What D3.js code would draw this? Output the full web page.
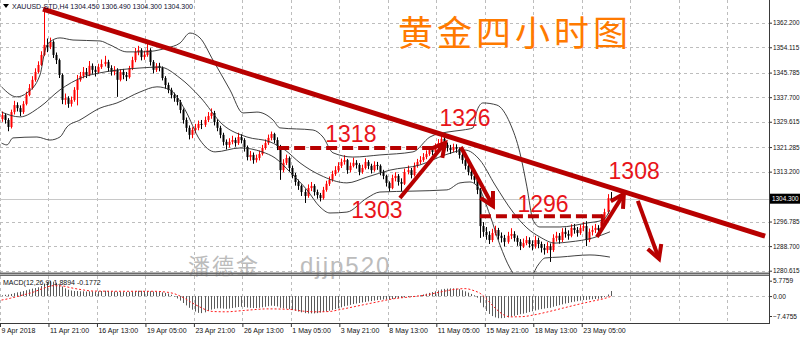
<!DOCTYPE html>
<html>
<head>
<meta charset="utf-8">
<script src="https://cdn.jsdelivr.net/npm/d3@7"></script>
<style>
  body { margin: 0; background: #fff; }
  svg { display: block; }
  .tick text { font-family: "Liberation Sans", Arial, sans-serif; }
</style>
</head>
<body>
<svg id="chart" width="800" height="337"></svg>
<script>
// ---- data (XAUUSD H4) ----
const firstOpen = 1330.5;

const closes = [
  1331.8,1330.2,1327.9,1332.8,1335.1,1334.1,1332.8,1335.5,1338.4,1340.7,
  1343.4,1346.0,1348.3,1351.6,1354.9,1354.2,1355.9,1351.6,1349.9,1345.0,
  1336.8,1337.4,1335.5,1336.8,1340.1,1343.4,1344.7,1346.0,1345.0,1348.0,
  1346.7,1346.0,1347.6,1348.6,1349.3,1347.3,1346.0,1346.7,1343.4,1346.0,
  1345.0,1344.3,1347.3,1349.9,1352.6,1353.2,1350.9,1351.6,1353.2,1349.3,
  1346.7,1348.0,1347.3,1344.0,1341.7,1340.1,1338.4,1337.4,1336.1,1333.5,
  1330.2,1327.6,1325.3,1326.9,1327.6,1328.9,1328.6,1330.2,1331.5,1332.5,
  1329.5,1327.6,1325.3,1323.0,1322.0,1323.0,1323.6,1322.6,1324.6,1323.6,
  1321.3,1318.0,1318.7,1317.0,1317.7,1319.0,1321.0,1322.6,1324.3,1325.6,
  1323.6,1321.6,1313.7,1316.1,1317.7,1314.4,1312.1,1309.8,1308.5,1306.5,
  1305.2,1307.8,1308.5,1306.5,1305.5,1304.5,1307.2,1309.2,1310.5,1312.4,
  1313.7,1315.1,1316.4,1317.0,1313.7,1315.1,1316.1,1315.4,1313.1,1314.4,
  1316.4,1315.1,1313.7,1315.4,1315.1,1313.1,1311.8,1309.5,1307.8,1311.1,
  1311.8,1309.8,1309.2,1313.1,1313.7,1312.1,1315.1,1316.4,1317.0,1318.0,
  1319.0,1320.3,1319.7,1321.3,1322.6,1324.0,1322.0,1321.0,1320.3,1321.3,
  1320.7,1318.7,1317.0,1315.1,1313.1,1311.8,1310.5,1307.2,1295.3,1293.4,
  1292.4,1290.7,1293.0,1294.0,1292.1,1291.4,1290.1,1292.1,1292.7,1291.4,
  1290.1,1288.7,1289.7,1290.7,1289.4,1288.7,1290.7,1289.4,1288.1,1287.4,
  1288.7,1287.4,1291.4,1292.1,1290.7,1293.4,1292.7,1292.1,1294.7,1294.0,
  1293.0,1294.7,1295.3,1290.7,1293.4,1294.0,1294.7,1294.0,1296.7,1299.9,
  1304.5,1304.3
];

const highs = [
  1333.0,1332.4,1330.8,1333.6,1336.5,1336.0,1335.0,1336.4,1339.5,1342.0,
  1344.6,1347.2,1349.5,1352.8,1366.1,1357.0,1357.3,1356.4,1352.4,1350.4,
  1345.5,1338.9,1338.0,1337.9,1341.0,1345.0,1346.0,1347.6,1347.3,1349.6,
  1348.8,1347.9,1348.7,1350.1,1351.3,1350.0,1348.2,1347.9,1347.2,1346.9,
  1347.0,1346.0,1348.0,1351.0,1353.9,1354.6,1353.8,1353.0,1355.5,1353.8,
  1349.9,1348.9,1349.0,1347.8,1344.6,1342.5,1340.8,1339.2,1338.4,1336.8,
  1334.0,1331.0,1328.4,1327.8,1328.9,1330.0,1330.2,1331.3,1332.8,1334.0,
  1333.2,1330.4,1328.3,1326.0,1323.8,1324.2,1325.0,1324.4,1326.0,1325.5,
  1324.2,1321.8,1320.0,1319.5,1318.8,1320.1,1322.0,1323.8,1325.4,1326.4,
  1326.0,1324.5,1322.0,1317.3,1318.8,1318.2,1315.2,1312.8,1310.6,1309.0,
  1307.4,1309.0,1309.8,1309.1,1307.3,1306.2,1308.2,1310.2,1311.6,1313.5,
  1315.0,1316.3,1317.5,1318.6,1317.4,1316.2,1317.8,1317.0,1316.0,1315.5,
  1317.6,1317.0,1315.8,1316.6,1316.4,1315.6,1313.8,1312.2,1310.0,1312.2,
  1313.0,1312.4,1311.0,1314.2,1315.2,1314.4,1316.2,1317.4,1318.3,1319.3,
  1320.2,1321.6,1321.3,1322.5,1323.9,1325.9,1324.6,1322.8,1322.0,1322.4,
  1322.2,1321.2,1319.4,1317.6,1315.6,1313.8,1312.4,1311.0,1307.8,1296.6,
  1295.0,1293.6,1294.4,1295.4,1294.7,1293.2,1292.4,1293.4,1294.6,1293.6,
  1292.2,1291.0,1291.2,1292.0,1291.6,1290.6,1292.1,1291.5,1290.2,1289.4,
  1290.0,1289.6,1292.6,1293.4,1293.0,1294.6,1294.8,1293.9,1295.9,1296.0,
  1295.0,1295.8,1296.6,1296.9,1294.5,1295.4,1296.0,1295.6,1297.8,1301.0,
  1305.8,1306.49
];

const lows = [
  1329.6,1329.0,1326.5,1327.4,1332.0,1333.0,1331.5,1332.2,1335.0,1338.0,
  1340.2,1342.8,1345.5,1347.9,1351.2,1352.5,1353.5,1350.6,1348.6,1344.0,
  1335.4,1335.2,1334.2,1334.6,1336.2,1335.0,1342.8,1343.9,1344.0,1344.6,
  1345.4,1344.5,1345.5,1347.0,1347.8,1346.1,1344.8,1344.9,1337.8,1342.9,
  1343.6,1343.0,1343.8,1346.6,1349.2,1351.5,1349.8,1350.0,1351.0,1348.1,
  1345.5,1346.0,1346.2,1343.2,1340.5,1339.0,1337.3,1336.2,1335.0,1332.4,
  1329.0,1326.3,1323.8,1324.2,1325.8,1326.8,1327.2,1327.9,1329.5,1330.6,
  1328.4,1326.5,1324.2,1321.8,1320.5,1321.1,1322.2,1321.4,1322.0,1322.5,
  1319.8,1316.9,1316.8,1315.8,1316.2,1316.9,1318.5,1320.4,1322.0,1323.5,
  1322.6,1320.3,1310.5,1313.0,1315.4,1313.2,1311.0,1308.6,1307.2,1305.2,
  1302.9,1304.6,1306.8,1305.3,1304.3,1303.4,1304.0,1306.6,1308.5,1309.9,
  1311.8,1313.0,1314.4,1315.5,1312.5,1313.0,1314.6,1314.2,1312.0,1312.5,
  1313.9,1314.0,1312.6,1313.2,1313.8,1312.0,1310.7,1308.3,1306.7,1307.4,
  1310.0,1308.6,1306.8,1308.8,1312.3,1311.0,1311.6,1314.5,1315.6,1316.4,
  1317.3,1318.4,1318.6,1319.2,1320.8,1322.0,1320.8,1319.8,1319.0,1319.6,
  1319.4,1317.5,1315.8,1313.9,1312.0,1310.6,1309.3,1305.8,1291.4,1291.8,
  1290.8,1289.4,1290.0,1292.2,1290.8,1289.9,1288.6,1289.5,1291.0,1290.2,
  1288.8,1287.4,1288.1,1289.0,1288.2,1287.3,1287.9,1288.0,1286.6,1285.9,
  1286.4,1283.5,1286.8,1290.2,1289.5,1290.0,1291.5,1290.8,1291.6,1292.8,
  1291.8,1292.4,1293.6,1288.7,1290.0,1292.2,1293.0,1292.8,1293.4,1296.0,
  1299.3,1304.3
];

// Bollinger bands (20,2), traced at sample bars
const upperBars = [0,5,8.4,12.7,14.4,16,19.3,23.6,32.5,35.8,41.4,46.7,54.6,58.9,62.2,65.5,69.8,75.4,79.7,84.3,89.6,91.9,102.8,106.1,109.4,116,124.9,135.8,141.4,147,152.3,155.6,157,158.9,163.5,167.8,171.1,173.4,175.4,177.7,184.3,193.2,198.5,200.8];
const upperVals = [1341.1,1337.8,1339.1,1345.0,1353.2,1355.9,1357.2,1356.5,1356.2,1354.9,1352.6,1352.6,1353.9,1355.5,1358.8,1357.2,1349.9,1340.1,1332.5,1332.8,1330.2,1327.6,1326.9,1324.6,1319.4,1318.0,1318.7,1319.7,1324.6,1326.2,1326.9,1327.6,1333.5,1335.8,1335.1,1329.2,1319.4,1308.2,1297.3,1295.0,1295.0,1296.3,1297.3,1300.6];
const middleBars = [0,6.1,12.7,19.3,26.9,32.5,45.7,52.3,58.9,65.5,73.1,81,88.6,93.6,98.5,105.1,114,120.6,128.2,138.1,146.4,153,157.9,162.9,168.8,173.4,177.7,182.7,187.6,195.2,200.8];
const middleVals = [1332.8,1331.2,1334.5,1340.1,1344.3,1345.7,1347.3,1347.6,1344.0,1337.8,1328.6,1324.6,1323.0,1320.3,1316.1,1312.1,1309.5,1311.4,1313.7,1315.4,1318.7,1320.3,1317.0,1308.8,1299.9,1294.7,1291.7,1289.7,1290.1,1291.4,1293.4];
const lowerBars = [0,1.8,3.8,11.7,16,19.3,21.6,25.9,32.5,38.1,45.7,51.3,55.6,60.6,65.5,70.5,78.7,86,90.3,95.2,100.8,105.1,108.4,114,120.6,124.9,135.8,147,151.3,154.6,157.9,161.2,164.5,167.8,171.1,174.4,177.1,179.4,184.3,194.2,200.8];
const lowerVals = [1322.6,1322.0,1324.3,1324.6,1323.6,1324.6,1327.9,1330.2,1334.1,1335.8,1339.4,1341.1,1340.1,1333.5,1323.6,1319.7,1321.0,1319.7,1317.7,1313.1,1307.2,1301.6,1299.6,1299.9,1304.5,1306.5,1306.8,1307.2,1309.5,1309.8,1307.2,1298.9,1289.1,1281.5,1277.6,1278.2,1282.5,1284.8,1285.1,1285.8,1285.1];

// MACD(12,26,9): main per bar, signal traced at sample bars
const macdMain = [
  0.3,0.5,0.6,0.8,1.1,1.4,1.6,1.9,2.2,2.5,2.8,3.0,3.3,3.8,
  4.7,5.3,5.6,5.4,5.0,4.4,3.6,2.9,2.4,2.1,
  1.9,1.9,1.8,1.8,1.7,1.8,1.8,1.7,1.8,1.9,
  2.0,1.9,1.8,1.7,1.6,1.6,1.5,1.5,1.6,1.7,
  1.9,2.0,2.0,1.9,1.9,1.8,1.7,1.6,1.5,1.4,1.2,
  1.0,0.5,-0.2,-0.9,-1.7,-2.6,-3.5,-4.4,-5.1,-5.8,-6.3,
  -6.4,-6.1,-5.6,-5.1,-4.8,-4.6,-4.6,-4.7,-4.8,-4.7,
  -4.5,-4.3,-4.1,-4.0,-4.1,-4.3,-4.4,-4.5,-4.5,-4.4,
  -4.2,-4.0,-3.8,-3.6,-3.7,-3.9,-4.4,-4.6,-4.7,-4.9,
  -5.2,-5.5,-5.8,-6.1,-6.4,-6.5,-6.5,-6.5,-6.4,-6.2,
  -6.0,-5.8,-5.5,-5.2,-4.9,-4.6,-4.2,-3.8,-3.6,-3.3,
  -3.0,-2.8,-2.6,-2.4,-2.2,-2.0,-1.9,-1.7,-1.5,-1.4,
  -1.3,-1.3,-1.3,-1.1,-0.9,-0.8,-0.7,-0.5,-0.4,-0.3,
  -0.2,0.1,0.3,0.6,0.9,1.2,1.5,1.8,2.1,2.5,
  2.7,2.8,2.9,2.9,2.8,2.6,2.2,1.8,1.3,0.8,
  0.3,-0.6,-2.5,-4.2,-5.6,-6.7,-7.5,-8.0,-8.3,-8.3,
  -8.2,-8.0,-7.7,-7.4,-7.1,-6.8,-6.6,-6.3,-6.0,-5.7,
  -5.4,-5.1,-4.9,-4.7,-4.5,-4.4,-4.0,-3.7,-3.4,-3.1,
  -2.8,-2.6,-2.3,-2.1,-1.9,-1.7,-1.5,-1.5,-1.3,-1.2,
  -1.1,-1.0,-0.9,-0.4,0.6,1.9
];
const signalBars = [0,3,7,10,14,17,20,23,27,30,40,50,55,57,60,63,66,68,70,74,80,88,95,100,104,108,112,118,124,130,135,140,146,150,153,156,158,160,163,166,168,172,176,180,185,190,195,199,201];
const signalVals = [-1.5,-0.8,0.4,1.3,3.0,3.9,3.8,3.1,2.3,1.9,1.8,1.8,1.4,0.9,-0.6,-2.6,-4.4,-5.4,-5.8,-5.9,-5.4,-4.8,-5.0,-5.7,-5.9,-5.8,-5.0,-3.6,-2.2,-0.9,-0.3,0.4,1.8,2.6,2.8,2.0,1.0,-1.0,-4.6,-7.2,-7.8,-7.7,-7.0,-6.0,-4.6,-3.2,-1.9,-0.9,-0.18];

// axis labels
const priceTicks = [1362.200,1354.115,1345.785,1337.700,1329.615,1321.285,1313.200,1296.785,1288.700,1280.615];
const lastPrice = 1304.300;
const macdTicks = [5.7759, 0.00, -7.4755];
const dateLabels = ['9 Apr 2018','11 Apr 21:00','16 Apr 13:00','19 Apr 05:00','23 Apr 21:00','26 Apr 13:00',
  '1 May 05:00','3 May 21:00','8 May 13:00','11 May 05:00','15 May 21:00','18 May 13:00','23 May 05:00'];
const barsPerTick = 16;

// hand-drawn annotations (bar index, price)
const trendLine = [[13.7, 1366.7], [252, 1292.0]];
const levelLines = [
  { from: 91.3, to: 146.4, price: 1321.0, stub: null },
  { from: 157.9, to: 198.3, price: 1298.5, stub: 1295.3 }
];
const arrows = [
  [[131.5, 1304.5], [146.4, 1322.6]],
  [[151.6, 1321.3], [162.2, 1301.9]],
  [[196.5, 1291.7], [205.4, 1305.9]],
  [[210.0, 1303.6], [217.0, 1284.5]]
];
const levelLabels = [
  { text: '1318', bar: 115.3, price: 1323.0 },
  { text: '1326', bar: 153.0, price: 1328.3 },
  { text: '1303', bar: 123.9, price: 1297.9 },
  { text: '1296', bar: 178.7, price: 1299.9 },
  { text: '1308', bar: 208.8, price: 1310.8 }
];

// ---- layout ----
const plotRight = 769;
const mainBottom = 273;
const macdTop = 276, macdBottom = 323;
const gridColor = '#bdbdbd';
const darkRed = '#b80000';
const labelRed = '#e8141a';
const font = '"Liberation Sans", Arial, sans-serif';

const svg = d3.select('#chart');

const x = d3.scaleLinear().domain([0, 253.3]).range([1.5, plotRight]);
const y = d3.scaleLinear().domain([1280.615, 1362.2]).range([270.7, 22.7]);
const yM = d3.scaleLinear().domain([-7.4755, 5.7759]).range([316, 280.7]);

const defs = svg.append('defs');
defs.append('clipPath').attr('id', 'clipMain')
  .append('rect').attr('x', 0).attr('y', 0).attr('width', plotRight).attr('height', mainBottom);
defs.append('clipPath').attr('id', 'clipMacd')
  .append('rect').attr('x', 0).attr('y', macdTop).attr('width', plotRight).attr('height', macdBottom - macdTop);

// grid
const grid = svg.append('g').attr('stroke', gridColor).attr('stroke-dasharray', '3,3').attr('stroke-width', 1);
grid.selectAll('.hgrid').data(priceTicks).enter().append('line')
  .attr('x1', 0).attr('x2', plotRight)
  .attr('y1', d => Math.round(y(d)) + 0.5).attr('y2', d => Math.round(y(d)) + 0.5);
grid.append('line').attr('x1', 0).attr('x2', plotRight)
  .attr('y1', Math.round(yM(0)) + 0.5).attr('y2', Math.round(yM(0)) + 0.5);
const vTicks = d3.range(0, 16).map(k => k * barsPerTick - 0.5);
vTicks.forEach(b => {
  const gx = Math.round(x(b)) + 0.5;
  grid.append('line').attr('x1', gx).attr('x2', gx).attr('y1', 0).attr('y2', mainBottom);
  grid.append('line').attr('x1', gx).attr('x2', gx).attr('y1', macdTop).attr('y2', macdBottom);
});

// title and watermark
svg.append('text').attr('x', 515).attr('y', 46).attr('text-anchor', 'middle')
  .attr('font-family', '"Noto Sans CJK SC", sans-serif').attr('font-size', 35)
  .attr('letter-spacing', 4).attr('fill', '#ff7a00').text('黄金四小时图');
svg.append('text').attr('x', 188).attr('y', 274)
  .attr('font-family', '"Noto Sans CJK SC", sans-serif').attr('font-size', 22)
  .attr('letter-spacing', 2).attr('fill', '#bcbcbc').text('潘德金');
svg.append('text').attr('x', 300).attr('y', 274)
  .attr('font-family', font).attr('font-size', 24)
  .attr('letter-spacing', 2).attr('fill', '#bcbcbc').text('djjp520');

// bid line
svg.append('line').attr('x1', 0).attr('x2', plotRight)
  .attr('y1', Math.round(y(lastPrice)) + 0.5).attr('y2', Math.round(y(lastPrice)) + 0.5)
  .attr('stroke', '#c8c8c8').attr('stroke-width', 1);

// candles
const bars = closes.map((c, i) => ({
  i: i,
  o: i === 0 ? firstOpen : closes[i - 1],
  c: c, h: highs[i], l: lows[i]
}));
const main = svg.append('g').attr('clip-path', 'url(#clipMain)');
const candle = main.selectAll('.candle').data(bars).enter().append('g')
  .attr('fill', d => d.c > d.o ? '#ff0000' : '#000')
  .attr('stroke', d => d.c > d.o ? '#ff0000' : '#000');
candle.append('line')
  .attr('x1', d => Math.round(x(d.i)) + 0.5).attr('x2', d => Math.round(x(d.i)) + 0.5)
  .attr('y1', d => y(d.h)).attr('y2', d => y(d.l)).attr('stroke-width', 1);
candle.append('rect')
  .attr('x', d => Math.round(x(d.i)) - 0.5)
  .attr('width', 2)
  .attr('y', d => y(Math.max(d.o, d.c)))
  .attr('height', d => Math.max(1, Math.abs(y(d.o) - y(d.c))))
  .attr('stroke', 'none');

// bollinger bands
const band = d3.line().x(d => x(d[0])).y(d => y(d[1])).curve(d3.curveMonotoneX);
[[upperBars, upperVals], [middleBars, middleVals], [lowerBars, lowerVals]].forEach(([bs, vs]) => {
  main.append('path').datum(bs.map((b, k) => [b, vs[k]]))
    .attr('d', band).attr('fill', 'none').attr('stroke', '#2a2a2a').attr('stroke-width', 0.9);
});

// MACD panel
const macd = svg.append('g').attr('clip-path', 'url(#clipMacd)');
macd.selectAll('.hist').data(macdMain).enter().append('line')
  .attr('x1', (d, i) => Math.round(x(i)) + 0.5).attr('x2', (d, i) => Math.round(x(i)) + 0.5)
  .attr('y1', yM(0)).attr('y2', d => yM(d))
  .attr('stroke', '#5a5a5a').attr('stroke-width', 1);
macd.append('path').datum(signalBars.map((b, k) => [b, signalVals[k]]))
  .attr('d', d3.line().x(d => x(d[0])).y(d => yM(d[1])).curve(d3.curveMonotoneX))
  .attr('fill', 'none').attr('stroke', '#ff1a1a').attr('stroke-width', 1).attr('stroke-dasharray', '2,2');

// annotations
const ann = svg.append('g').attr('clip-path', 'url(#clipMain)');
ann.append('line')
  .attr('x1', x(trendLine[0][0])).attr('y1', y(trendLine[0][1]))
  .attr('x2', x(trendLine[1][0])).attr('y2', y(trendLine[1][1]))
  .attr('stroke', darkRed).attr('stroke-width', 5);

const ann2 = svg.append('g');
levelLines.forEach(l => {
  ann2.append('line')
    .attr('x1', x(l.from)).attr('x2', x(l.to)).attr('y1', y(l.price)).attr('y2', y(l.price))
    .attr('stroke', darkRed).attr('stroke-width', 4).attr('stroke-dasharray', '11,5');
  if (l.stub !== null) {
    ann2.append('line')
      .attr('x1', x(l.to)).attr('x2', x(l.to)).attr('y1', y(l.price) - 2).attr('y2', y(l.stub))
      .attr('stroke', darkRed).attr('stroke-width', 3);
  }
});

arrows.forEach(a => {
  const x1 = x(a[0][0]), y1 = y(a[0][1]), x2 = x(a[1][0]), y2 = y(a[1][1]);
  const ang = Math.atan2(y2 - y1, x2 - x1);
  const len = 15, spread = 0.5;
  ann2.append('line').attr('x1', x1).attr('y1', y1).attr('x2', x2).attr('y2', y2)
    .attr('stroke', darkRed).attr('stroke-width', 4);
  const head = [ang + Math.PI - spread, ang + Math.PI + spread].map(t =>
    [x2 + len * Math.cos(t), y2 + len * Math.sin(t)]);
  ann2.append('path')
    .attr('d', `M${head[0][0]},${head[0][1]}L${x2},${y2}L${head[1][0]},${head[1][1]}`)
    .attr('fill', 'none').attr('stroke', darkRed).attr('stroke-width', 4)
    .attr('stroke-linejoin', 'miter');
});

ann2.selectAll('.lvl').data(levelLabels).enter().append('text')
  .attr('x', d => x(d.bar)).attr('y', d => y(d.price))
  .attr('text-anchor', 'middle').attr('font-family', font).attr('font-size', 23)
  .attr('fill', labelRed).text(d => d.text);

// frame
const frame = svg.append('g').attr('stroke', '#3a3a3a').attr('fill', 'none');
frame.append('line').attr('x1', 0).attr('x2', plotRight).attr('y1', mainBottom + 0.5).attr('y2', mainBottom + 0.5)
  .attr('stroke', '#6a6a6a').attr('stroke-width', 2);
frame.append('line').attr('x1', 0).attr('x2', plotRight).attr('y1', macdTop - 0.5).attr('y2', macdTop - 0.5)
  .attr('stroke', '#6a6a6a').attr('stroke-width', 1);
frame.append('line').attr('x1', 0).attr('x2', plotRight + 1).attr('y1', macdBottom + 0.5).attr('y2', macdBottom + 0.5);
frame.append('line').attr('x1', plotRight + 0.5).attr('x2', plotRight + 0.5).attr('y1', 0).attr('y2', macdBottom + 1);

// right price axis
const axisR = svg.append('g').attr('transform', `translate(${plotRight + 1},0)`)
  .call(d3.axisRight(y).tickValues(priceTicks).tickSize(2).tickPadding(1).tickFormat(d3.format('.3f')));
axisR.select('.domain').remove();
axisR.selectAll('text').attr('font-size', 6.4).attr('fill', '#111');
axisR.selectAll('line').attr('stroke', '#333');

// last price tag
const tagY = y(lastPrice);
svg.append('rect').attr('x', plotRight + 1).attr('y', tagY - 5).attr('width', 31).attr('height', 10).attr('fill', '#000');
svg.append('text').attr('x', plotRight + 3).attr('y', tagY).attr('dy', '0.35em')
  .attr('font-family', font).attr('font-size', 6.4).attr('fill', '#fff').text(lastPrice.toFixed(3));

// MACD axis
const axisM = svg.append('g').attr('transform', `translate(${plotRight + 1},0)`)
  .call(d3.axisRight(yM).tickValues(macdTicks).tickSize(2).tickPadding(1)
    .tickFormat(d => d === 0 ? '0.00' : d3.format('.4f')(d)));
axisM.select('.domain').remove();
axisM.selectAll('text').attr('font-size', 6.6).attr('fill', '#111');
axisM.selectAll('line').attr('stroke', '#333');

// time axis
const axisB = svg.append('g').attr('transform', `translate(0,${macdBottom + 1})`)
  .call(d3.axisBottom(x).tickValues(dateLabels.map((_, k) => k * barsPerTick - 0.5))
    .tickSize(3).tickPadding(1).tickFormat((d, k) => dateLabels[k]));
axisB.select('.domain').remove();
axisB.selectAll('text').attr('font-size', 7).attr('fill', '#111').attr('text-anchor', 'start').attr('dx', 1);
axisB.selectAll('line').attr('stroke', '#333');

// header and indicator caption
svg.append('path').attr('d', 'M3,4L9,4L6,8Z').attr('fill', '#000');
svg.append('text').attr('x', 12).attr('y', 9).attr('font-family', font).attr('font-size', 7)
  .attr('fill', '#101030').text('XAUUSD-STD,H4  1304.450 1306.490 1304.300 1304.300');
svg.append('text').attr('x', 3).attr('y', 285).attr('font-family', font).attr('font-size', 7)
  .attr('fill', '#101010').text('MACD(12,26,9) 1.8894 -0.1772');
</script>
</body>
</html>
